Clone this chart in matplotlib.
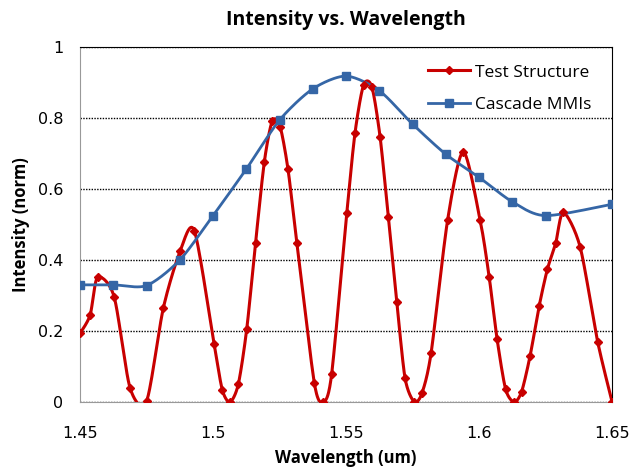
import numpy as np
import matplotlib
matplotlib.use("Agg")
import matplotlib.pyplot as plt

# values
test_wl = [1.4500, 1.4538, 1.4566, 1.4628, 1.4688, 1.4750, 1.4813, 1.4876, 1.4930,
           1.5004, 1.5035, 1.5064, 1.5095, 1.5127, 1.5160, 1.5193, 1.5223, 1.5252,
           1.5282, 1.5315, 1.5381, 1.5415, 1.5446, 1.5503, 1.5534, 1.5566, 1.5597,
           1.5628, 1.5659, 1.5691, 1.5722, 1.5756, 1.5785, 1.5820, 1.5882, 1.5941,
           1.6004, 1.6038, 1.6068, 1.6100, 1.6132, 1.6160, 1.6192, 1.6226, 1.6257,
           1.6288, 1.6317, 1.6380, 1.6446, 1.6500]
test_int = [0.193, 0.245, 0.351, 0.297, 0.040, 0.002, 0.264, 0.424, 0.482,
            0.164, 0.034, 0.000, 0.050, 0.207, 0.449, 0.677, 0.792, 0.776,
            0.655, 0.449, 0.053, 0.000, 0.079, 0.533, 0.759, 0.893, 0.888,
            0.747, 0.522, 0.281, 0.067, 0.001, 0.024, 0.139, 0.513, 0.705,
            0.513, 0.353, 0.177, 0.036, 0.000, 0.029, 0.130, 0.270, 0.374,
            0.447, 0.534, 0.437, 0.170, 0.001]

mmi_wl = [1.45, 1.4625, 1.475, 1.4875, 1.5, 1.5125, 1.525, 1.5375, 1.55,
          1.5625, 1.575, 1.5875, 1.6, 1.6125, 1.625, 1.65]
mmi_int = [0.330, 0.330, 0.328, 0.400, 0.525, 0.656, 0.794, 0.882, 0.918,
           0.877, 0.783, 0.698, 0.633, 0.564, 0.525, 0.557]

x_ticks = [1.45, 1.5, 1.55, 1.6, 1.65]
y_ticks = [0, 0.2, 0.4, 0.6, 0.8, 1]


def smooth(xs, ys, sx=2660.0, sy=355.0, n=24, k=0.8):
    # Excel-like smoothed line: cardinal spline through the points in screen units
    p = np.column_stack([np.array(xs) * sx, np.array(ys) * sy])
    p = np.vstack([p[0], p, p[-1]])
    out = []
    t = np.linspace(0, 1, n, endpoint=False)[:, None]
    h00 = 2 * t ** 3 - 3 * t ** 2 + 1
    h10 = t ** 3 - 2 * t ** 2 + t
    h01 = -2 * t ** 3 + 3 * t ** 2
    h11 = t ** 3 - t ** 2
    for i in range(1, len(p) - 2):
        p0, p1, p2, p3 = p[i - 1], p[i], p[i + 1], p[i + 2]
        m1 = k * (p2 - p0) / 2
        m2 = k * (p3 - p1) / 2
        out.append(h00 * p1 + h10 * m1 + h01 * p2 + h11 * m2)
    out.append(p[-2][None, :])
    out = np.vstack(out)
    return out[:, 0] / sx, out[:, 1] / sy


red = "#C80000"
blue = "#3566A6"

fig = plt.figure(figsize=(6.32, 4.68), dpi=100)
ax = fig.add_axes([0.1266, 0.141, 0.8418, 0.7586])

sx, sy = smooth(test_wl, test_int)
ax.plot(sx, sy, color=red, lw=2.2, zorder=3)
ax.plot(test_wl, test_int, linestyle="none", marker="D", ms=4.5, color=red, zorder=4)
ax.plot([], [], color=red, lw=2.2, marker="D", ms=4.5, label="Test Structure")

bx, by = smooth(mmi_wl, mmi_int)
ax.plot(bx, by, color=blue, lw=2.0, zorder=3)
ax.plot(mmi_wl, mmi_int, linestyle="none", marker="s", ms=6, color=blue, zorder=4)
ax.plot([], [], color=blue, lw=2.0, marker="s", ms=6, label="Cascade MMIs")

ax.set_xlim(1.45, 1.65)
ax.set_ylim(0, 1)
ax.set_xticks(x_ticks)
ax.set_xticklabels([f"{v:g}" for v in x_ticks])
ax.set_yticks(y_ticks)
ax.set_yticklabels([f"{v:g}" for v in y_ticks])
ax.tick_params(length=0, labelsize=11.5)
ax.tick_params(axis="x", pad=17)
ax.tick_params(axis="y", pad=12)
for lbl in ax.get_xticklabels() + ax.get_yticklabels():
    lbl.set_family("DejaVu Sans")

ax.grid(axis="y", color="black", linestyle=(0, (1, 1)), lw=1.0)
ax.spines["left"].set_color("#999999")
ax.spines["bottom"].set_color("#999999")
ax.spines["top"].set_color("black")
ax.spines["right"].set_color("black")

ax.set_title("Intensity vs. Wavelength", fontsize=14, fontweight="bold",
             family="Open Sans", pad=16)
ax.set_xlabel("Wavelength (um)", fontsize=12, fontweight="bold", family="Open Sans",
              labelpad=6)
ax.set_ylabel("Intensity (norm)", fontsize=12, fontweight="bold", family="Open Sans",
              labelpad=6)

ax.legend(loc="upper right", frameon=False, prop={"family": "Open Sans", "size": 12.5},
          handlelength=2.4, handletextpad=0.3, bbox_to_anchor=(0.99, 0.995),
          labelspacing=0.95)

fig.savefig("out.png", dpi=100)
